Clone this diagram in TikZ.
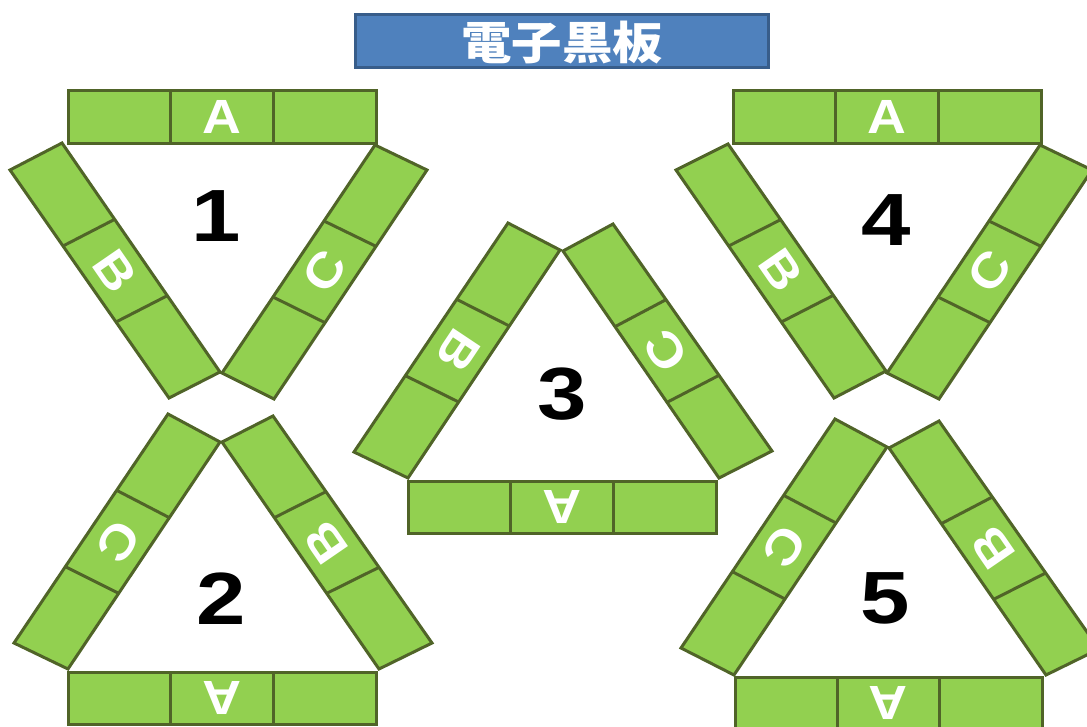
\documentclass[tikz,border=0pt]{standalone}
\usepackage{fontspec}
\usetikzlibrary{calc}
\newfontfamily\lsans{Liberation Sans}
\newfontfamily\cjk{Noto Sans CJK JP}
\definecolor{barfill}{HTML}{92D050}
\definecolor{barline}{RGB}{80,100,40}
\definecolor{titlefill}{HTML}{4F81BD}
\definecolor{titleline}{HTML}{385D8A}
\tikzset{
  barstyle/.style={draw=barline, line width=3pt, line join=miter},
  lettr/.style={text=white, inner sep=0pt, font=\lsans\bfseries\fontsize{48}{48}\selectfont},
  numlabel/.style={text=black, inner sep=0pt, font=\lsans\bfseries\fontsize{74}{74}\selectfont},
  titlebox/.style={draw=titleline, fill=titlefill, line width=3pt}
}
% #1 name, #2 outer-start, #3 inner-start, #4 inner-end, #5 outer-end, #6 label, #7 rotation
\newcommand\greenbar[7]{%
  \coordinate (#1-a) at #2;
  \coordinate (#1-b) at #3;
  \coordinate (#1-c) at #4;
  \coordinate (#1-d) at #5;
  \filldraw[barstyle, fill=barfill] (#1-a) -- (#1-b) -- (#1-c) -- (#1-d) -- cycle;
  \draw[barstyle] ($(#1-a)!1/3!(#1-d)$) -- ($(#1-b)!1/3!(#1-c)$);
  \draw[barstyle] ($(#1-a)!2/3!(#1-d)$) -- ($(#1-b)!2/3!(#1-c)$);
  \node[lettr, rotate=#7] (#1-l) at ($(#1-a)!0.5!(#1-c)$) {\scalebox{1.12}[1]{#6}};
}
\begin{document}
\begin{tikzpicture}[x=1pt, y=-1pt]
\useasboundingbox (0,0) rectangle (1087,726);
\clip (0,0) rectangle (1087,726);
\fill[white] (0,0) rectangle (1087,726);

% title
\draw[titlebox] (355,14) rectangle (768,67);
\node[text=white, inner sep=0pt, font=\cjk\bfseries\fontsize{45}{45}\selectfont] (title) at (562,43) {\scalebox{1.12}[1]{電子黒板}};

% group 1
\greenbar{g1A}{(68,90)}{(68,143)}{(376,143)}{(376,90)}{A}{0}
\greenbar{g1B}{(10,170)}{(62,143)}{(220,372)}{(169,398)}{B}{-55.4}
\greenbar{g1C}{(427,170)}{(375,145)}{(222,373)}{(274,399)}{C}{56.1}
\node[numlabel] (n1) at (216,216) {\scalebox{1.2}[1]{1}};

% group 4
\greenbar{g4A}{(733,90)}{(733,143)}{(1041,143)}{(1041,90)}{A}{0}
\greenbar{g4B}{(676,170)}{(728,144)}{(886,371)}{(834,398)}{B}{-55.4}
\greenbar{g4C}{(1092,170)}{(1040,145)}{(887,373)}{(939,399)}{C}{56.1}
\node[numlabel] (n4) at (886,220) {\scalebox{1.2}[1]{4}};

% group 3
\greenbar{g3A}{(408,533)}{(408,481)}{(716,481)}{(716,533)}{A}{180}
\greenbar{g3B}{(508,223)}{(560,250)}{(408,478)}{(354,452)}{B}{-123.7}
\greenbar{g3C}{(613,224)}{(563,251)}{(719,478)}{(772,451)}{C}{124.5}
\node[numlabel] (n3) at (562,394) {\scalebox{1.2}[1]{3}};

% group 2
\greenbar{g2A}{(68,724)}{(68,672)}{(376,672)}{(376,724)}{A}{180}
\greenbar{g2C}{(168,414)}{(220,442)}{(68,669)}{(14,643)}{C}{-123.7}
\greenbar{g2B}{(273,416)}{(222,442)}{(379,669)}{(432,643)}{B}{124.5}
\node[numlabel] (n2) at (221,599) {\scalebox{1.2}[1]{2}};

% group 5
\greenbar{g5A}{(735,730)}{(735,677)}{(1042,677)}{(1042,730)}{A}{180}
\greenbar{g5C}{(835,419)}{(887,447)}{(734,675)}{(681,648)}{C}{-123.7}
\greenbar{g5B}{(939,421)}{(889,448)}{(1046,675)}{(1099,649)}{B}{124.5}
\node[numlabel] (n5) at (885,598) {\scalebox{1.2}[1]{5}};
\end{tikzpicture}
\end{document}
